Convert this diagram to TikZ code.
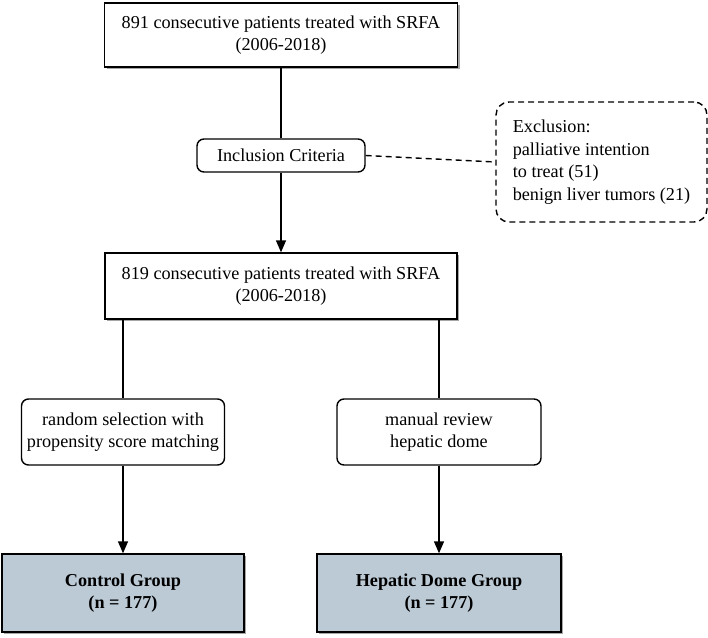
\documentclass[tikz,border=0pt]{standalone}
\usepackage{fontspec}
\setmainfont{Liberation Serif}
\usepackage{tikz}
\usetikzlibrary{shapes,arrows.meta,shadows}
\usetikzlibrary{positioning}

\definecolor{groupfill}{HTML}{BCCAD6}
\newcommand{\diafont}{\fontsize{18.2}{22.5}\selectfont}
\tikzset{
  sbox/.style={draw,line width=1.4pt,fill=white,align=center,inner sep=0pt,
    drop shadow={shadow xshift=2pt,shadow yshift=-2pt,fill=black!35,opacity=1}},
  rbox/.style={draw,line width=1.4pt,fill=white,align=center,inner sep=0pt,rounded corners=7pt},
  gbox/.style={sbox,fill=groupfill,font=\diafont\bfseries},
  exbox/.style={draw,dashed,dash pattern=on 6pt off 4pt,line width=1.4pt,rounded corners=13pt,align=left,inner sep=0pt},
  link/.style={line width=1.4pt},
  arr/.style={link,-{Triangle[length=12pt,width=10pt]}}
}

\begin{document}
\begin{tikzpicture}[x=1pt,y=-1pt,font=\diafont]
\useasboundingbox (0,0) rectangle (708,637);

\node[sbox,minimum width=353pt,minimum height=64pt] (all) at (281,35)
  {891 consecutive patients treated with SRFA\\(2006-2018)};
\node[rbox,minimum width=168pt,minimum height=33pt] (incl) at (281,155.5) {Inclusion Criteria};
\node[exbox,minimum width=211pt,minimum height=120pt] (excl) at (601.5,162)
  {Exclusion:\\palliative intention\\to treat (51)\\benign liver tumors (21)};
\node[sbox,minimum width=352pt,minimum height=66pt] (incl819) at (281,286)
  {819 consecutive patients treated with SRFA\\(2006-2018)};

\node[rbox,minimum width=203pt,minimum height=66pt] (psm) at (123,432)
  {random selection with\\propensity score matching};
\node[rbox,minimum width=204pt,minimum height=66pt] (review) at (439,432)
  {manual review\\hepatic dome};

\node[gbox,minimum width=242pt,minimum height=78pt] (control) at (123,593)
  {Control Group\\(n = 177)};
\node[gbox,minimum width=244pt,minimum height=78pt] (dome) at (439,593)
  {Hepatic Dome Group\\(n = 177)};

% connectors
\draw[link] (all.south) -- (incl.north);
\draw[arr] (incl.south) -- (incl819.north);
\draw[link,dashed,dash pattern=on 6pt off 4pt] (incl.east) -- (excl.west);

\draw[link] (incl819.south -| psm.north) -- (psm.north);
\draw[link] (incl819.south -| review.north) -- (review.north);

\draw[arr] (psm.south) -- (control.north);
\draw[arr] (review.south) -- (dome.north);

\end{tikzpicture}
\end{document}
